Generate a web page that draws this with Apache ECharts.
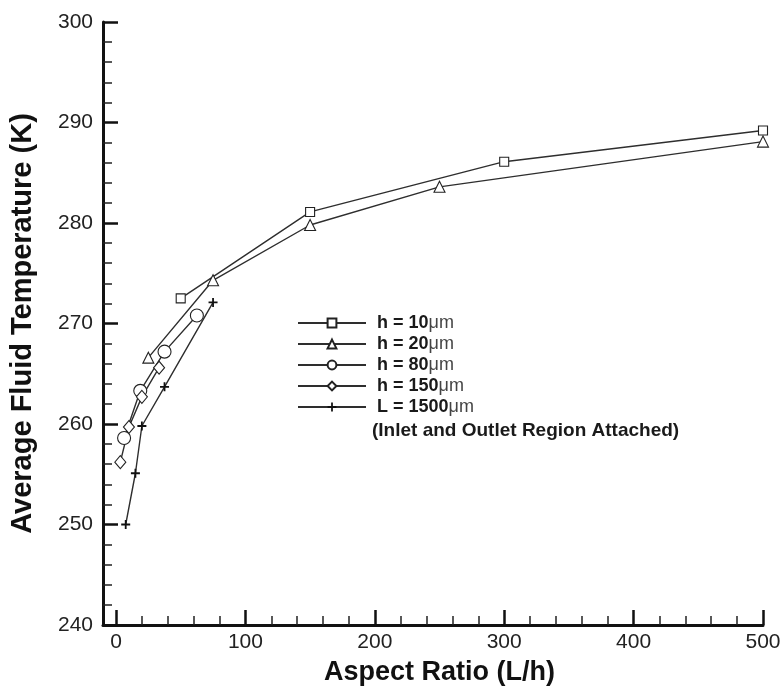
<!DOCTYPE html>
<html>
<head>
<meta charset="utf-8">
<script src="https://cdn.jsdelivr.net/npm/echarts@6/dist/echarts.min.js"></script>
<style>
	html, body { margin: 0; padding: 0; background: #fff; }
	#chart { width: 784px; height: 688px; }
</style>
</head>
<body>
<div id="chart"></div>
<script>
// 数据
var seriesNames = ['h = 10μm', 'h = 20μm', 'h = 80μm', 'h = 150μm', 'L = 1500μm'];
var h10X = [50, 150, 300, 500];
var h10Y = [272.5, 281.1, 286.1, 289.2];
var h20X = [25, 75, 150, 250, 500];
var h20Y = [266.6, 274.3, 279.8, 283.6, 288.1];
var h80X = [6.25, 18.75, 37.5, 62.5];
var h80Y = [258.6, 263.3, 267.2, 270.8];
var h150X = [3.33, 10, 20, 33.3];
var h150Y = [256.2, 259.7, 262.7, 265.6];
var l1500X = [7.5, 15, 20, 37.5, 75];
var l1500Y = [250, 255.1, 259.8, 263.7, 272.1];
var noteText = '(Inlet and Outlet Region Attached)';

function pairs(xs, ys) {
	return xs.map(function(x, i) {
		return [x, ys[i]];
	});
}

var font = '"Liberation Sans", Arial, Helvetica, sans-serif';
var plusPath = 'path://M4,0L6,0L6,4L10,4L10,6L6,6L6,10L4,10L4,6L0,6L0,4L4,4Z';

function mkSeries(name, data, symbol, size, filled) {
	return {
		name: name,
		type: 'line',
		xAxisIndex: 1,
		yAxisIndex: 1,
		data: data,
		symbol: symbol,
		symbolSize: size,
		showAllSymbol: true,
		lineStyle: { color: '#2e2e2e', width: 1.4 },
		itemStyle: filled ? { color: '#111', borderWidth: 0 } : { color: '#fff', borderColor: '#222', borderWidth: 1.1 },
		z: 3
	};
}

var myChart = echarts.init(document.getElementById('chart'));
var option = {
	animation: false,
	backgroundColor: '#fff',
	textStyle: { fontFamily: font },
	grid: [
		{ left: 103, right: 21, top: 22, bottom: 63, outerBoundsMode: 'none' }, // 坐标轴线
		{ left: 116, right: 21, top: 22, bottom: 63, outerBoundsMode: 'none' }  // 数据
	],
	legend: {
		left: 292,
		top: 309,
		orient: 'vertical',
		itemWidth: 68,
		itemHeight: 11,
		itemGap: 3,
		selectedMode: false,
		data: seriesNames,
		formatter: function(name) {
			var p = name.split('μm');
			return '{a|' + p[0] + '}{b|μm}';
		},
		textStyle: {
			padding: [0, 0, 0, 6],
			rich: {
				a: { fontSize: 18, fontWeight: 'bold', color: '#1a1a1a', fontFamily: font, lineHeight: 18 },
				b: { fontSize: 18, color: '#444', fontFamily: font, lineHeight: 18 }
			}
		}
	},
	graphic: [{
		type: 'text',
		left: 372,
		top: 421,
		style: {
			text: noteText,
			font: 'bold 19px ' + font,
			fill: '#1a1a1a'
		}
	}],
	xAxis: [{
		gridIndex: 0,
		type: 'value',
		min: -10,
		max: 500,
		axisLine: { onZero: false, lineStyle: { color: '#111', width: 3 } },
		axisTick: { show: false },
		axisLabel: { show: false },
		splitLine: { show: false }
	}, {
		gridIndex: 1,
		type: 'value',
		min: 0,
		max: 500,
		interval: 100,
		name: 'Aspect Ratio (L/h)',
		nameLocation: 'middle',
		nameGap: 34,
		nameTextStyle: { fontSize: 27, fontWeight: 'bold', color: '#111', fontFamily: font },
		axisLine: { show: false, onZero: false },
		axisTick: { inside: true, length: 15, lineStyle: { color: '#111', width: 2.5 } },
		minorTick: { show: true, splitNumber: 5, length: 9, lineStyle: { color: '#222', width: 1.5 } },
		axisLabel: { fontSize: 21, color: '#222', margin: 7 },
		splitLine: { show: false }
	}],
	yAxis: [{
		gridIndex: 0,
		type: 'value',
		min: 240,
		max: 300,
		interval: 10,
		name: 'Average Fluid Temperature (K)',
		nameLocation: 'middle',
		nameGap: 66,
		nameTextStyle: { fontSize: 29, fontWeight: 'bold', color: '#111', fontFamily: font },
		axisLine: { show: true, onZero: false, lineStyle: { color: '#111', width: 3 } },
		axisTick: { inside: true, length: 15, lineStyle: { color: '#111', width: 2.5 } },
		minorTick: { show: true, splitNumber: 5, length: 9, lineStyle: { color: '#222', width: 1.5 } },
		axisLabel: { fontSize: 21, color: '#222', margin: 10 },
		splitLine: { show: false }
	}, {
		gridIndex: 1,
		type: 'value',
		min: 240,
		max: 300,
		interval: 10,
		show: false
	}],
	series: [
		mkSeries(seriesNames[0], pairs(h10X, h10Y), 'rect', 9, false),
		mkSeries(seriesNames[1], pairs(h20X, h20Y), 'triangle', 11, false),
		mkSeries(seriesNames[2], pairs(h80X, h80Y), 'circle', 13, false),
		mkSeries(seriesNames[3], pairs(h150X, h150Y), 'diamond', [11, 13], false),
		mkSeries(seriesNames[4], pairs(l1500X, l1500Y), plusPath, 9, true)
	]
};
myChart.setOption(option);
</script>
</body>
</html>
